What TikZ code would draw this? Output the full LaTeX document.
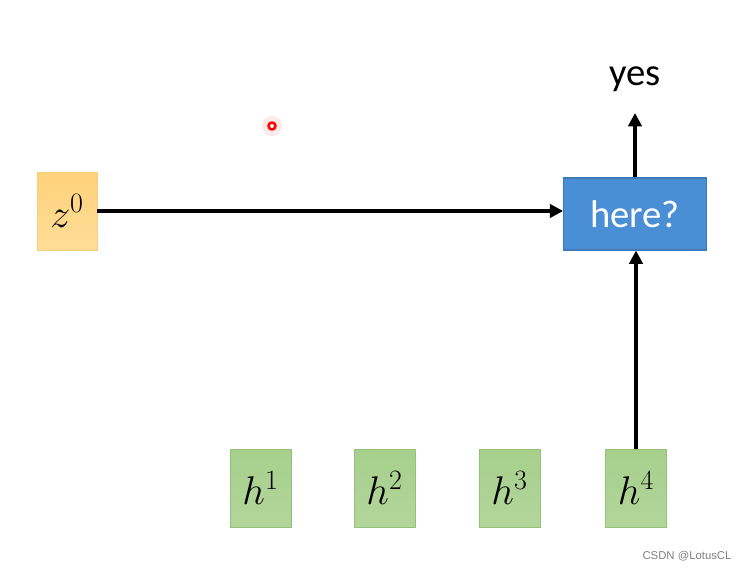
\documentclass[tikz,border=0pt]{standalone}
\usepackage{fix-cm}
\usepackage{fontspec}
\setmainfont{Carlito}
\newfontfamily\wmfont{Liberation Sans}
\usetikzlibrary{arrows.meta,positioning,calc}
\definecolor{zfillT}{HTML}{FFD27A}
\definecolor{zfillB}{HTML}{FFDC98}
\definecolor{zline}{HTML}{F7CD7E}
\definecolor{hfillT}{HTML}{A6CF8C}
\definecolor{hfillB}{HTML}{B3D69B}
\definecolor{hline}{HTML}{95C07A}
\definecolor{qfill}{HTML}{4A8FD6}
\definecolor{qline}{HTML}{3F79B8}

\begin{document}
\begin{tikzpicture}[x=0.75pt, y=-0.75pt, >={Triangle[length=10pt,width=10pt]},
  mathbox/.style={draw, inner sep=0pt, line width=0.6pt, font=\fontsize{30}{34}\selectfont},
  zbox/.style={mathbox, draw=zline, top color=zfillT, bottom color=zfillB, minimum width=45pt, minimum height=58.5pt},
  hbox/.style={mathbox, draw=hline, top color=hfillT, bottom color=hfillB, minimum width=45.75pt, minimum height=58.5pt},
  qbox/.style={draw=qline, fill=qfill, line width=0.8pt, inner sep=0pt, minimum width=107pt, minimum height=54pt,
    text=white, font=\fontsize{29}{34}\selectfont},
  link/.style={->, line width=3pt}]
\useasboundingbox (0,0) rectangle (751,571);
\node[zbox] (z0) at (67,211) {$z^0$};
\node[qbox] (q) at (635,214) {here?};
\node[font=\fontsize{29}{34}\selectfont] (yes) at (635,79) {yes};
\coordinate (top) at (635,113);
\foreach \i/\x in {1/260.5, 2/384.5, 3/509.5, 4/636} {
  \node[hbox] (h\i) at (\x,488) {$h^{\i}$};
}
\draw[link] (z0.east) -- (z0.east -| q.west);
\draw[link] (h4.north) -- (h4.north |- q.south);
\draw[link] (q.north) -- (top);
% pointer dot
\fill[red!15, opacity=0.6] (272,126) circle (10);
\draw[red, line width=1.8pt] (272,126) circle (3.5);
\node[font=\wmfont\fontsize{8.5}{10}\selectfont, text=gray] (wm) at (687,556) {CSDN @LotusCL};
\end{tikzpicture}
\end{document}
